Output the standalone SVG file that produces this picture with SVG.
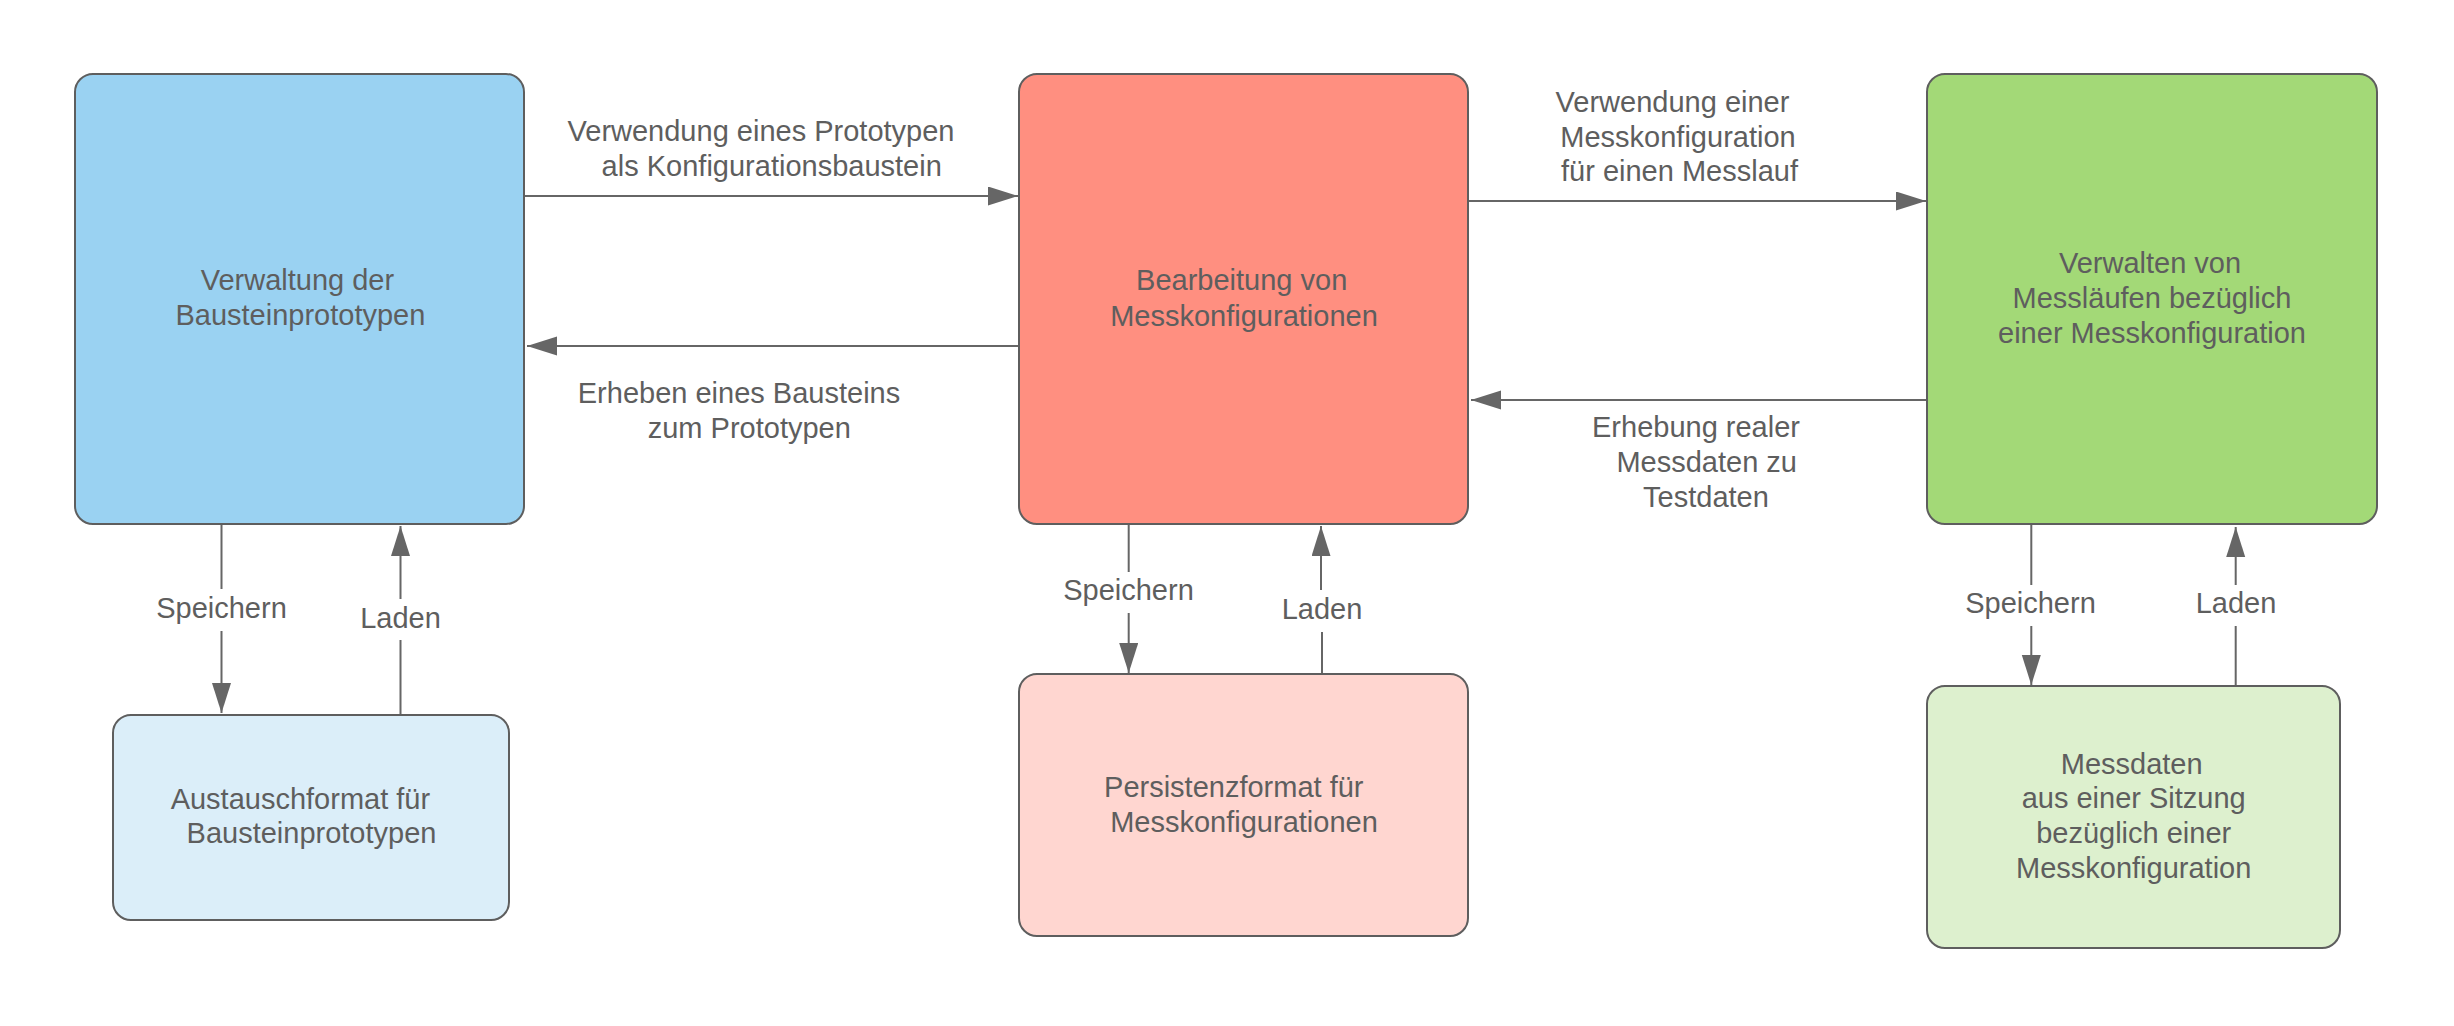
<svg xmlns="http://www.w3.org/2000/svg" width="2454" height="1026" viewBox="0 0 2454 1026">
<style>
.box{stroke:#5E5E5E;stroke-width:2}
.t{font-family:"Liberation Sans",Arial,sans-serif;font-size:29px;fill:#5E5E5E;text-anchor:middle}
.c{fill:none;stroke:#666666;stroke-width:2}
</style>
<defs>
<marker id="ah" markerUnits="userSpaceOnUse" markerWidth="31" markerHeight="20" refX="30" refY="9.5" orient="auto">
<path d="M0,0 L30,9.5 L0,19 Z" fill="#666666"/>
</marker>
</defs>
<rect width="2454" height="1026" fill="#FFFFFF"/>
<g id="connectors">
<path class="c" d="M524,196 H1018" marker-end="url(#ah)"/>
<path class="c" d="M1019,346 H527" marker-end="url(#ah)"/>
<path class="c" d="M1468,201 H1926" marker-end="url(#ah)"/>
<path class="c" d="M1927,400 H1471" marker-end="url(#ah)"/>
<path class="c" d="M221.5,524 V589 M221.5,631 V713" marker-end="url(#ah)"/>
<path class="c" d="M400.5,715 V640 M400.5,599 V526" marker-end="url(#ah)"/>
<path class="c" d="M1128.7,524 V572 M1128.7,613 V673" marker-end="url(#ah)"/>
<path class="c" d="M1322,674 V632 M1321,590 V526" marker-end="url(#ah)"/>
<path class="c" d="M2031.3,524 V585 M2031.3,626 V685" marker-end="url(#ah)"/>
<path class="c" d="M2235.7,686 V626 M2235.7,585 V527" marker-end="url(#ah)"/>
<text class="t" x="761" y="141">Verwendung eines Prototypen</text>
<text class="t" x="771.7" y="175.7">als Konfigurationsbaustein</text>
<text class="t" x="739" y="402.7">Erheben eines Bausteins</text>
<text class="t" x="749.3" y="437.7">zum Prototypen</text>
<text class="t" x="1672.5" y="111.7">Verwendung einer</text>
<text class="t" x="1678" y="146.7">Messkonfiguration</text>
<text class="t" x="1679.5" y="181">für einen Messlauf</text>
<text class="t" x="1696" y="436.7">Erhebung realer</text>
<text class="t" x="1706.7" y="471.7">Messdaten zu</text>
<text class="t" x="1706" y="506.7">Testdaten</text>
<text class="t" x="221.5" y="618">Speichern</text>
<text class="t" x="400.5" y="628">Laden</text>
<text class="t" x="1128.5" y="600">Speichern</text>
<text class="t" x="1322" y="619">Laden</text>
<text class="t" x="2030.5" y="613">Speichern</text>
<text class="t" x="2236" y="613">Laden</text>
</g>
<g id="node-verwaltung">
<rect class="box" x="75" y="74" width="449" height="450" rx="18" fill="#9AD2F2"/>
<text class="t" x="297.4" y="290">Verwaltung der</text>
<text class="t" x="300.4" y="325">Bausteinprototypen</text>
</g>
<g id="node-bearbeitung">
<rect class="box" x="1019" y="74" width="449" height="450" rx="18" fill="#FF8F80"/>
<text class="t" x="1241.7" y="290">Bearbeitung von</text>
<text class="t" x="1244" y="325.7">Messkonfigurationen</text>
</g>
<g id="node-messlaeufe">
<rect class="box" x="1927" y="74" width="450" height="450" rx="18" fill="#A3D977"/>
<text class="t" x="2150" y="272.7">Verwalten von</text>
<text class="t" x="2152" y="308.3">Messläufen bezüglich</text>
<text class="t" x="2152" y="343.3">einer Messkonfiguration</text>
</g>
<g id="node-austauschformat">
<rect class="box" x="113" y="715" width="396" height="205" rx="18" fill="#DBEEF9"/>
<text class="t" x="300.4" y="808.6">Austauschformat für</text>
<text class="t" x="311.5" y="842.8">Bausteinprototypen</text>
</g>
<g id="node-persistenzformat">
<rect class="box" x="1019" y="674" width="449" height="262" rx="18" fill="#FFD6D0"/>
<text class="t" x="1233.8" y="796.7">Persistenzformat für</text>
<text class="t" x="1244" y="831.7">Messkonfigurationen</text>
</g>
<g id="node-messdaten">
<rect class="box" x="1927" y="686" width="413" height="262" rx="18" fill="#DDF0CE"/>
<text class="t" x="2131.7" y="774">Messdaten</text>
<text class="t" x="2133.7" y="808.3">aus einer Sitzung</text>
<text class="t" x="2133.7" y="843.3">bezüglich einer</text>
<text class="t" x="2133.7" y="878.3">Messkonfiguration</text>
</g>
</svg>
